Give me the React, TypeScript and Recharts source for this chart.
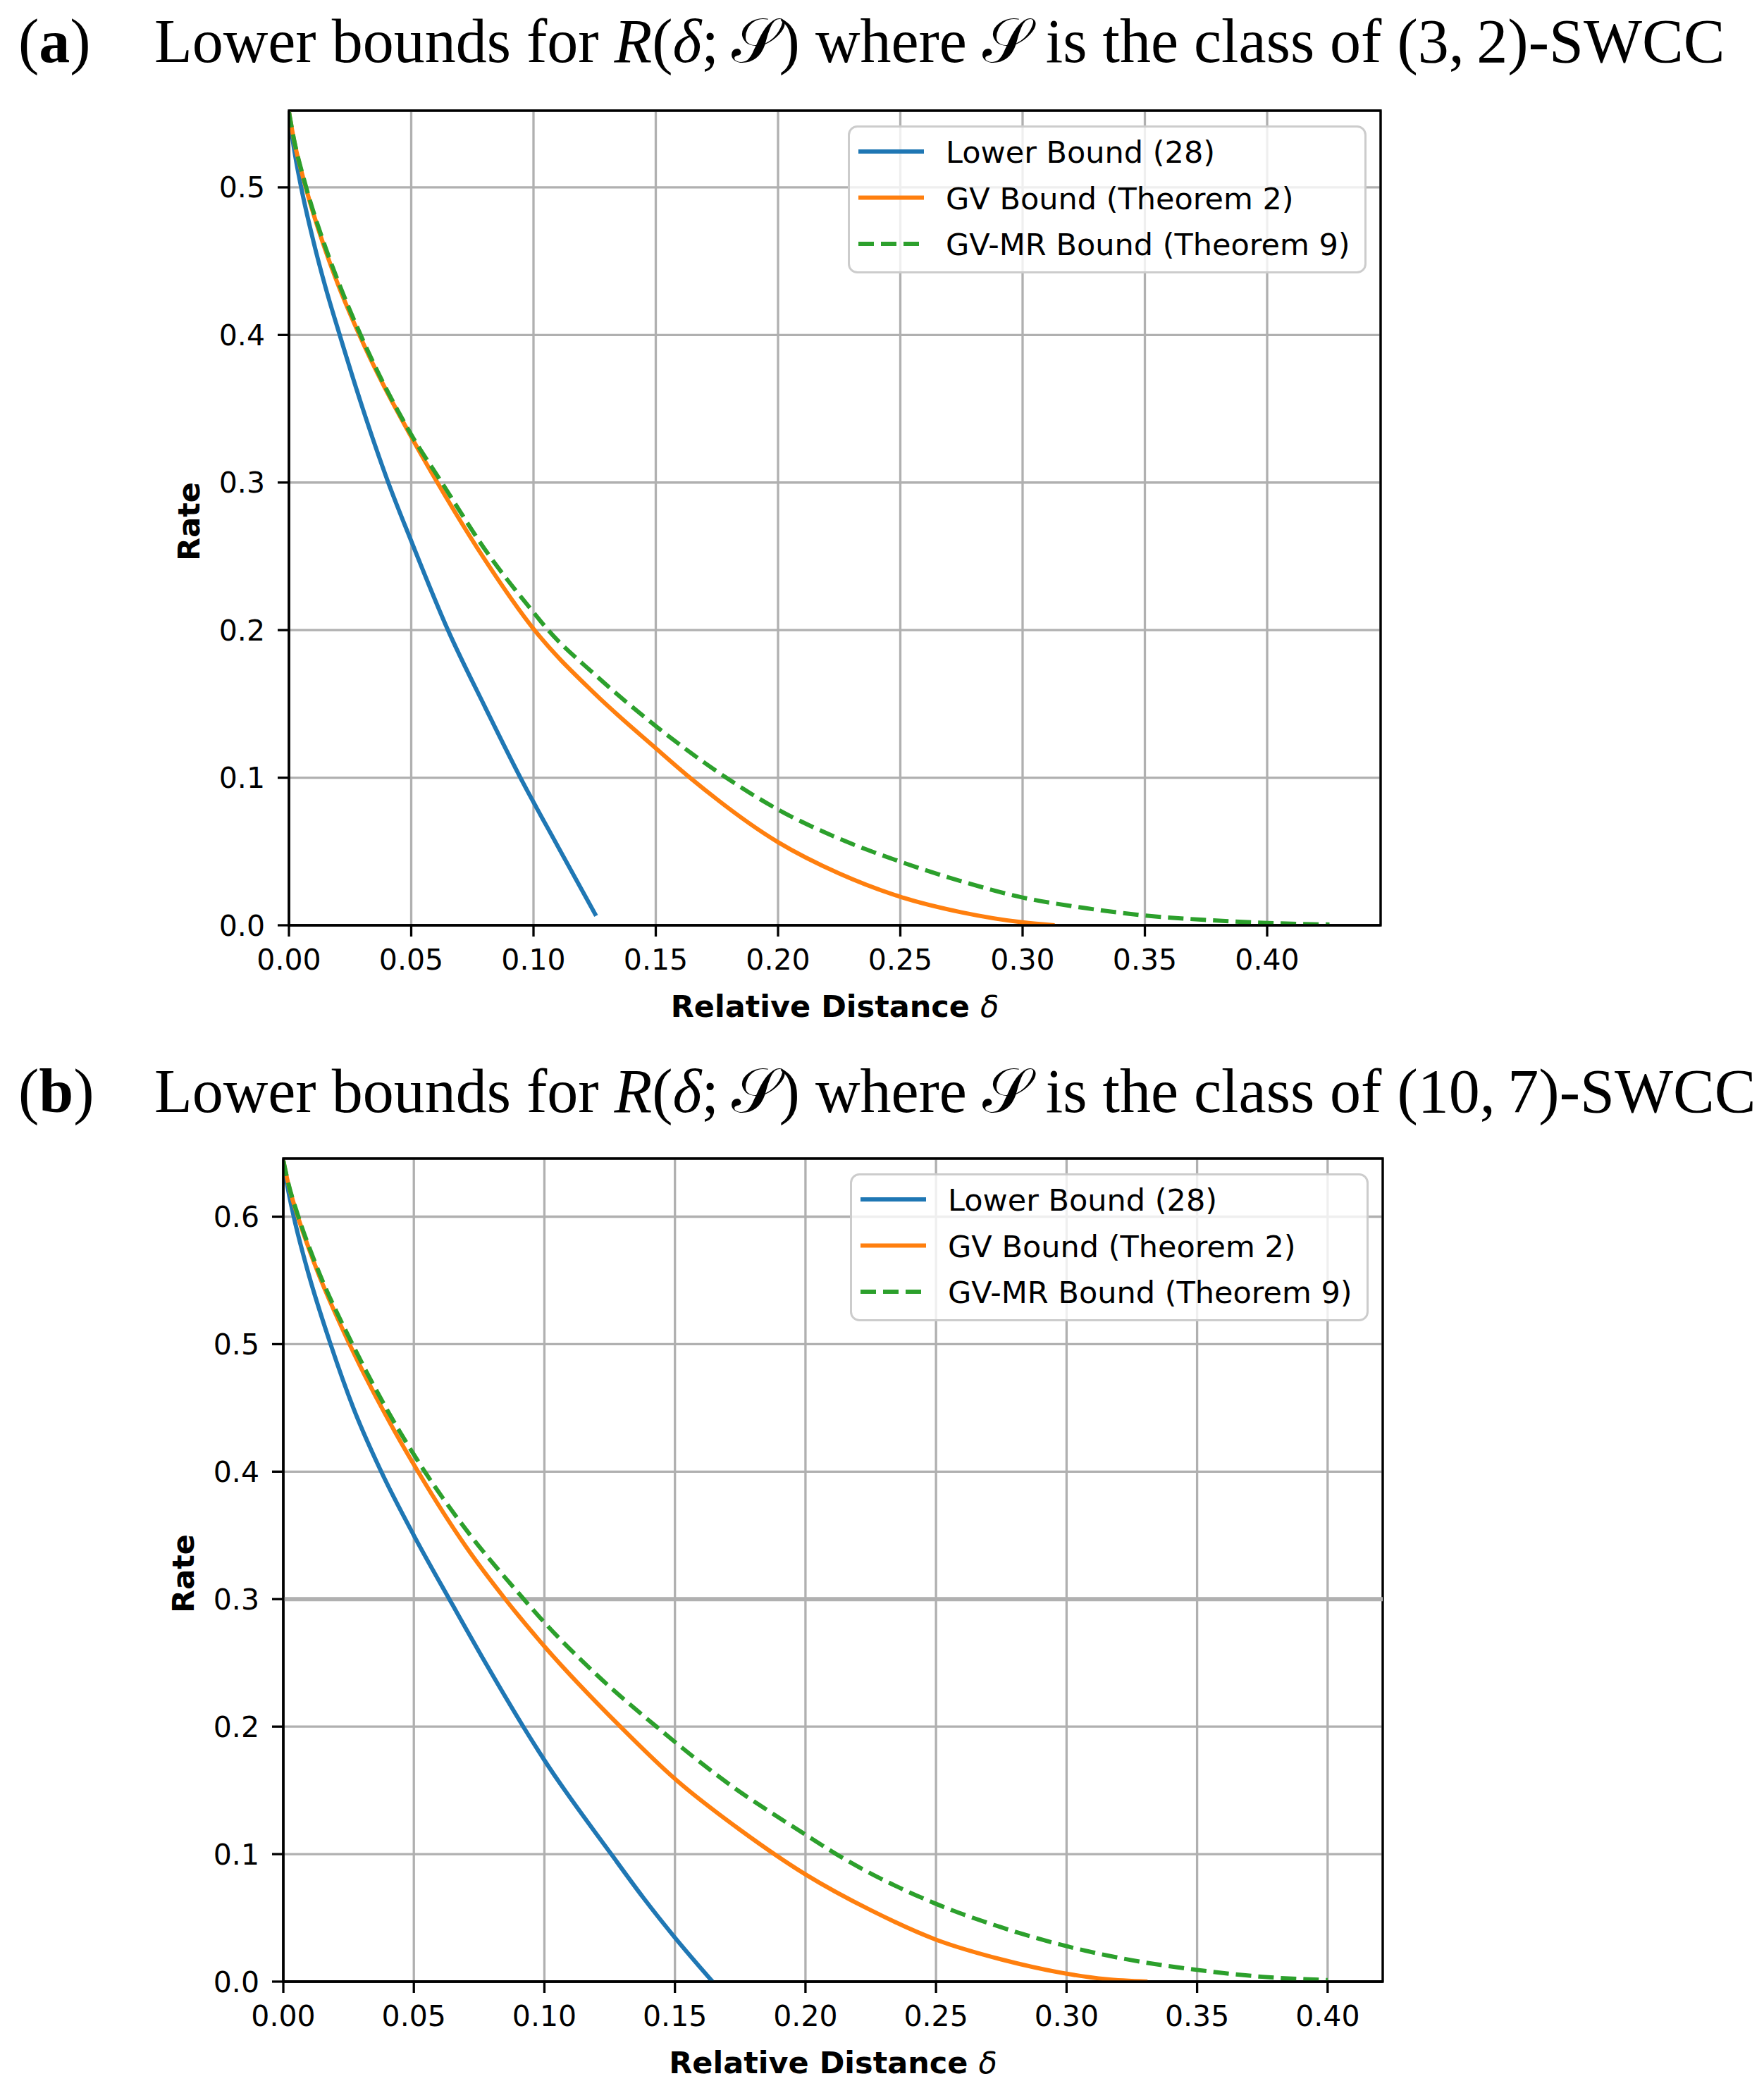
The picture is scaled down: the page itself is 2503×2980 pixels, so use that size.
import React from "react";
import {
  LineChart,
  Line,
  XAxis,
  YAxis,
  CartesianGrid,
  Legend,
  ReferenceArea,
  ReferenceLine,
} from "recharts";

// (a) (3,2)-SWCC
const deltaLowerA = [0, 0.002, 0.005, 0.01, 0.015, 0.021, 0.03, 0.0405, 0.05, 0.065, 0.08, 0.0945, 0.11, 0.1256];
const rateLowerA = [0.551, 0.527, 0.5, 0.4635, 0.432, 0.3987, 0.351, 0.3005, 0.2604, 0.2001, 0.1485, 0.1005, 0.0533, 0.0064];

const deltaGvA = [0, 0.002, 0.0068, 0.015, 0.02, 0.0288, 0.05, 0.0607, 0.08, 0.1004, 0.125, 0.15, 0.164, 0.2, 0.225, 0.25, 0.275, 0.3, 0.3131];
const rateGvA = [0.551, 0.5325, 0.5005, 0.457, 0.4345, 0.4, 0.331, 0.3, 0.248, 0.2, 0.157, 0.12, 0.1, 0.0563, 0.0351, 0.0193, 0.0088, 0.002, 0];

const deltaMrA = [0, 0.002, 0.0068, 0.015, 0.02, 0.0293, 0.05, 0.0625, 0.08, 0.1, 0.106, 0.125, 0.15, 0.1788, 0.2, 0.225, 0.25, 0.275, 0.3, 0.325, 0.35, 0.375, 0.4, 0.4255];
const rateMrA = [0.551, 0.533, 0.5015, 0.459, 0.4368, 0.4, 0.3325, 0.3, 0.255, 0.212, 0.2, 0.17, 0.135, 0.1, 0.0784, 0.0587, 0.0431, 0.0298, 0.0188, 0.0118, 0.0066, 0.0036, 0.0016, 0.0005];

// (b) (10,7)-SWCC
const deltaLowerB = [0, 0.0015, 0.004, 0.009, 0.0181, 0.027, 0.0375, 0.05, 0.064, 0.078, 0.092, 0.1, 0.1256, 0.138, 0.15, 0.1644];
const rateLowerB = [0.644, 0.6247, 0.6, 0.56, 0.5, 0.449, 0.4, 0.35, 0.2985, 0.248, 0.1997, 0.1737, 0.1, 0.0655, 0.0345, 0];

const deltaGvB = [0, 0.002, 0.0053, 0.012, 0.0255, 0.038, 0.0516, 0.07, 0.085, 0.1, 0.1291, 0.15, 0.175, 0.2, 0.225, 0.25, 0.275, 0.3, 0.315, 0.331];
const rateGvB = [0.644, 0.625, 0.6018, 0.5628, 0.4994, 0.449, 0.4, 0.341, 0.3, 0.263, 0.2, 0.159, 0.119, 0.0841, 0.056, 0.0329, 0.0174, 0.0062, 0.0019, 0];

const deltaMrB = [0, 0.002, 0.0055, 0.012, 0.0275, 0.04, 0.0542, 0.07, 0.0921, 0.1, 0.12, 0.1429, 0.17, 0.2, 0.2118, 0.25, 0.275, 0.3, 0.325, 0.35, 0.375, 0.4];
const rateMrB = [0.644, 0.6256, 0.6017, 0.5649, 0.4958, 0.4476, 0.4, 0.3545, 0.3, 0.2817, 0.2407, 0.2, 0.156, 0.1153, 0.1, 0.061, 0.0426, 0.0278, 0.0168, 0.0092, 0.0038, 0.0012];

const xTicks = [0, 0.05, 0.1, 0.15, 0.2, 0.25, 0.3, 0.35, 0.4];
const yTicksA = [0, 0.1, 0.2, 0.3, 0.4, 0.5];
const yTicksB = [0, 0.1, 0.2, 0.3, 0.4, 0.5, 0.6];

const SERIES = [
  { key: "lower", name: "Lower Bound (28)", color: "#1f77b4", dash: undefined },
  { key: "gv", name: "GV Bound (Theorem 2)", color: "#ff7f0e", dash: undefined },
  { key: "mr", name: "GV-MR Bound (Theorem 9)", color: "#2ca02c", dash: "22 10" },
];

const zip = (xs: number[], ys: number[]) => xs.map((x, i) => ({ x, y: ys[i] }));

const TICK_FONT = { fontFamily: "DejaVu Sans", fontSize: 41, fill: "#000" };
const LINE_W = 6;
const GRID = "#b0b0b0";

function LegendBox() {
  const w = 736;
  const h = 210;
  return (
    <svg width={w} height={h} style={{ display: "block" }}>
      <rect
        x={1.5}
        y={1.5}
        width={w - 3}
        height={h - 3}
        rx={12}
        fill="#ffffff"
        fillOpacity={0.8}
        stroke="#cccccc"
        strokeWidth={3}
      />
      {SERIES.map((s, i) => {
        const cy = 37 + i * 65.5;
        return (
          <g key={s.key}>
            <line
              x1={15}
              x2={108}
              y1={cy}
              y2={cy}
              stroke={s.color}
              strokeWidth={LINE_W}
              strokeDasharray={s.dash}
            />
            <text x={139} y={cy + 16} fontFamily="DejaVu Sans" fontSize={43} fill="#000">
              {s.name}
            </text>
          </g>
        );
      })}
    </svg>
  );
}

interface PanelProps {
  top: number;
  letter: string;
  swcc: string;
  plotLeft: number;
  plotTop: number;
  plotRight: number;
  plotHeight: number;
  xMax: number;
  yMax: number;
  yTicks: number[];
  lines: { x: number; y: number }[][];
  thickGrid?: number;
}

function Title({ letter, swcc }: { letter: string; swcc: string }) {
  return (
    <svg width={2503} height={140} style={{ position: "absolute", left: 0, top: 0 }}>
      <text x={26} y={88} fontFamily="Liberation Serif" fontSize={88} fill="#000">
        {"("}
        <tspan fontWeight="bold">{letter}</tspan>
        {")"}
      </text>
      <text x={219} y={88} fontFamily="Liberation Serif" fontSize={88} fill="#000">
        {"Lower bounds for "}
        <tspan fontStyle="italic">R</tspan>
        {"("}
        <tspan fontStyle="italic">δ</tspan>
        {";\u2009𝒮) where 𝒮 is the class of "}
        {swcc}
        {"-SWCC"}
      </text>
    </svg>
  );
}

function Panel(p: PanelProps) {
  const H = 1490;
  const yAxisW = 120;
  const xAxisH = 100;
  const margin = {
    top: p.plotTop,
    left: p.plotLeft - yAxisW,
    right: 2503 - p.plotRight,
    bottom: H - p.plotTop - p.plotHeight - xAxisH,
  };
  const cx = (p.plotLeft + p.plotRight) / 2;
  const cy = p.plotTop + p.plotHeight / 2 + 5;
  const labelX = p.plotLeft - 142;

  return (
    <div style={{ position: "absolute", left: 0, top: p.top, width: 2503, height: H }}>
      <Title letter={p.letter} swcc={p.swcc} />
      <div style={{ position: "absolute", left: 0, top: 0 }}>
        <LineChart width={2503} height={H} margin={margin}>
          <CartesianGrid stroke={GRID} strokeWidth={3.3} />
          {p.thickGrid !== undefined && (
            <ReferenceLine y={p.thickGrid} stroke={GRID} strokeWidth={6} />
          )}
          <XAxis
            dataKey="x"
            type="number"
            domain={[0, p.xMax]}
            allowDataOverflow
            ticks={xTicks}
            interval={0}
            tickFormatter={(v: number) => v.toFixed(2)}
            tick={TICK_FONT}
            tickSize={16}
            tickMargin={18}
            height={xAxisH}
            axisLine={{ stroke: "#000", strokeWidth: 3.3 }}
            tickLine={{ stroke: "#000", strokeWidth: 3.3 }}
            label={() => (
              <text
                x={cx}
                y={p.plotTop + p.plotHeight + 130}
                textAnchor="middle"
                fontFamily="DejaVu Sans"
                fontSize={43}
                fontWeight="bold"
                fill="#000"
              >
                {"Relative Distance "}
                <tspan fontWeight="normal" fontStyle="italic">δ</tspan>
              </text>
            )}
          />
          <YAxis
            type="number"
            domain={[0, p.yMax]}
            allowDataOverflow
            ticks={p.yTicks}
            interval={0}
            tickFormatter={(v: number) => v.toFixed(1)}
            tick={TICK_FONT}
            tickSize={16}
            tickMargin={18}
            width={yAxisW}
            axisLine={{ stroke: "#000", strokeWidth: 3.3 }}
            tickLine={{ stroke: "#000", strokeWidth: 3.3 }}
            label={() => (
              <text
                x={labelX}
                y={cy}
                dy="0.36em"
                transform={`rotate(-90 ${labelX} ${cy})`}
                textAnchor="middle"
                fontFamily="DejaVu Sans"
                fontSize={43}
                fontWeight="bold"
                fill="#000"
              >
                Rate
              </text>
            )}
          />
          {SERIES.map((s, i) => (
            <Line
              key={s.key}
              data={p.lines[i]}
              dataKey="y"
              name={s.name}
              type="monotone"
              stroke={s.color}
              strokeWidth={LINE_W}
              strokeDasharray={s.dash}
              dot={false}
              activeDot={false}
              isAnimationActive={false}
            />
          ))}
          <ReferenceArea
            x1={0}
            x2={p.xMax}
            y1={0}
            y2={p.yMax}
            fill="none"
            fillOpacity={0}
            stroke="#000"
            strokeWidth={3.3}
            ifOverflow="visible"
          />
          <Legend
            layout="vertical"
            align="center"
            verticalAlign="middle"
            wrapperStyle={{ left: p.plotRight - 756, top: p.plotTop + 21, width: 736, height: 210 }}
            content={() => <LegendBox />}
          />
        </LineChart>
      </div>
    </div>
  );
}

export default function App() {
  return (
    <div
      style={{
        position: "absolute",
        left: 0,
        top: 0,
        width: 2503,
        height: 2980,
        background: "#fff",
        overflow: "hidden",
      }}
    >
      <Panel
        top={0}
        letter="a"
        swcc={"(3,\u20092)"}
        plotLeft={410}
        plotTop={157}
        plotRight={1959}
        plotHeight={1156}
        xMax={0.4464}
        yMax={0.552}
        yTicks={yTicksA}
        lines={[zip(deltaLowerA, rateLowerA), zip(deltaGvA, rateGvA), zip(deltaMrA, rateMrA)]}
      />
      <Panel
        top={1490}
        letter="b"
        swcc={"(10,\u20097)"}
        plotLeft={402}
        plotTop={154}
        plotRight={1962}
        plotHeight={1168}
        xMax={0.4211}
        yMax={0.6456}
        yTicks={yTicksB}
        thickGrid={0.3}
        lines={[zip(deltaLowerB, rateLowerB), zip(deltaGvB, rateGvB), zip(deltaMrB, rateMrB)]}
      />
    </div>
  );
}
